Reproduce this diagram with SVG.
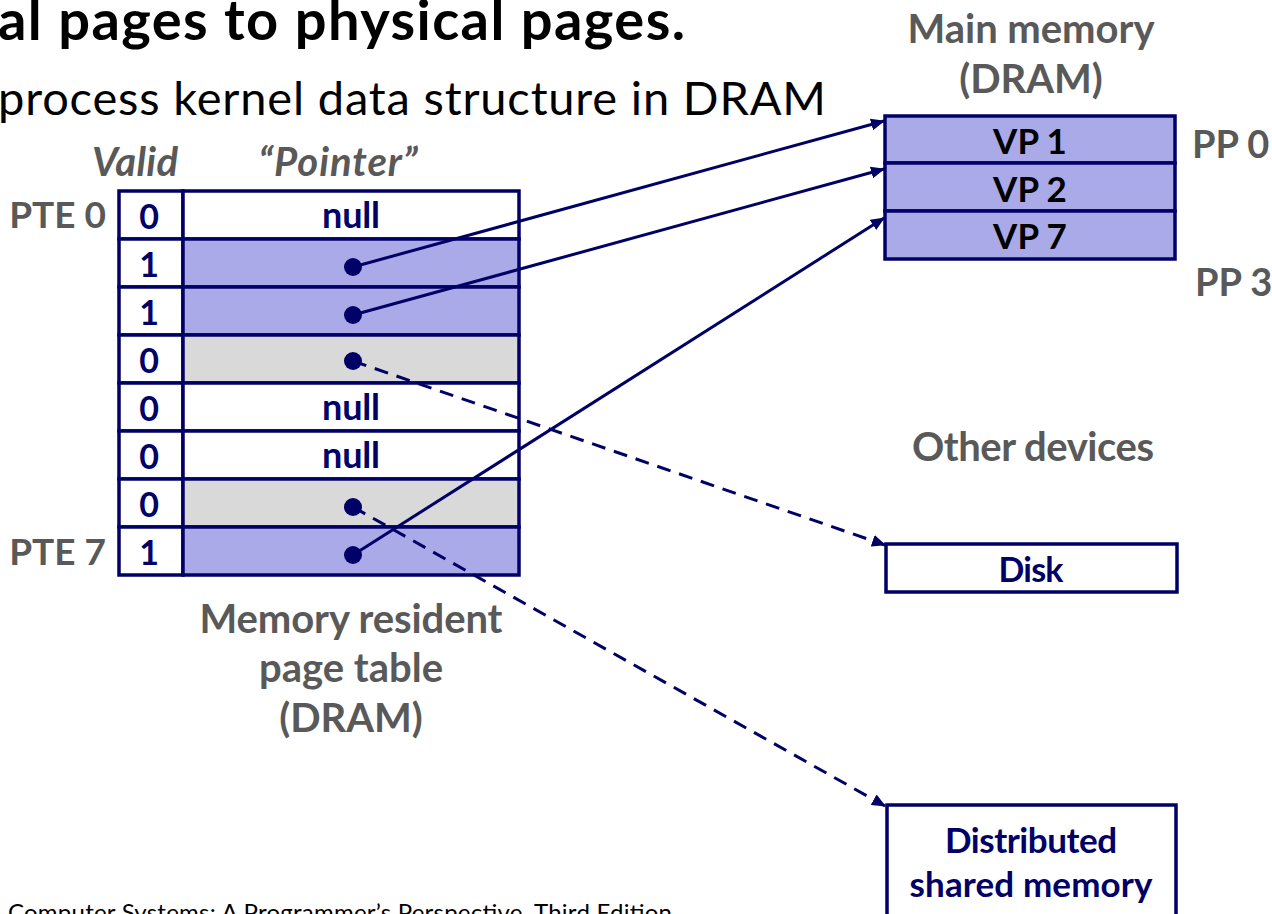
<svg xmlns="http://www.w3.org/2000/svg" width="1272" height="914" viewBox="0 0 1272 914">
<defs>
<marker id="ah" markerWidth="14" markerHeight="12" refX="13" refY="6" orient="auto" markerUnits="userSpaceOnUse">
<path d="M0,0 L14,6 L0,12 Z" fill="#000066"/>
</marker>
<style>
text{font-family:Lato,"Open Sans","Liberation Sans",sans-serif;}
.gray{fill:#595959;font-weight:bold;}
.navy{fill:#000066;font-weight:bold;}
.blk{fill:#000;font-weight:bold;}
.cell{stroke:#000066;stroke-width:3.5;}
.wh{fill:#fff;}
.bl{fill:#AAAAE8;}
.gr{fill:#D9D9D9;}
.dot{fill:#000066;}
.con{stroke:#000066;stroke-width:3;fill:none;marker-end:url(#ah);}
.dash{stroke-dasharray:14,9;}
</style>
</defs>
<rect width="1272" height="914" fill="#fff"/>
<text x="-2" y="40" font-size="56" class="blk" textLength="687">al pages to physical pages.</text>
<text x="-2" y="115" font-size="47" fill="#000" textLength="828">process kernel data structure in DRAM</text>
<text x="135" y="176" font-size="40" class="gray" font-style="italic" text-anchor="middle" textLength="86">Valid</text>
<text x="338" y="176" font-size="40" class="gray" font-style="italic" text-anchor="middle" textLength="159">“Pointer”</text>
<text x="106" y="228" font-size="37" class="gray" text-anchor="end">PTE 0</text>
<text x="106" y="565" font-size="37" class="gray" text-anchor="end">PTE 7</text>
<g id="pagetable">
<rect class="cell wh" x="119" y="191" width="64" height="48"/><rect class="cell wh" x="183" y="191" width="336" height="48"/>
<rect class="cell wh" x="119" y="239" width="64" height="48"/><rect class="cell bl" x="183" y="239" width="336" height="48"/>
<rect class="cell wh" x="119" y="287" width="64" height="48"/><rect class="cell bl" x="183" y="287" width="336" height="48"/>
<rect class="cell wh" x="119" y="335" width="64" height="48"/><rect class="cell gr" x="183" y="335" width="336" height="48"/>
<rect class="cell wh" x="119" y="383" width="64" height="48"/><rect class="cell wh" x="183" y="383" width="336" height="48"/>
<rect class="cell wh" x="119" y="431" width="64" height="48"/><rect class="cell wh" x="183" y="431" width="336" height="48"/>
<rect class="cell wh" x="119" y="479" width="64" height="48"/><rect class="cell gr" x="183" y="479" width="336" height="48"/>
<rect class="cell wh" x="119" y="527" width="64" height="48"/><rect class="cell bl" x="183" y="527" width="336" height="48"/>
<g font-size="34" class="navy" text-anchor="middle">
<text x="149" y="229">0</text><text x="149" y="277">1</text><text x="149" y="325">1</text><text x="149" y="373">0</text>
<text x="149" y="421">0</text><text x="149" y="469">0</text><text x="149" y="517">0</text><text x="149" y="565">1</text>
</g>
<g font-size="36" class="navy" text-anchor="middle">
<text x="351" y="228" textLength="58">null</text><text x="351" y="420" textLength="58">null</text><text x="351" y="468" textLength="58">null</text>
</g>
</g>
<text x="351" y="633" font-size="40" class="gray" text-anchor="middle" textLength="303">Memory resident</text>
<text x="351" y="682" font-size="40" class="gray" text-anchor="middle">page table</text>
<text x="351" y="732" font-size="40" class="gray" text-anchor="middle">(DRAM)</text>
<g id="mainmem">
<text x="1031" y="43" font-size="40" class="gray" text-anchor="middle" textLength="247">Main memory</text>
<text x="1031" y="93" font-size="40" class="gray" text-anchor="middle">(DRAM)</text>
<rect class="cell bl" x="885" y="116" width="290" height="47"/>
<rect class="cell bl" x="885" y="163" width="290" height="48"/>
<rect class="cell bl" x="885" y="211" width="290" height="48"/>
<text x="1030" y="154" font-size="35" class="blk" text-anchor="middle">VP 1</text>
<text x="1030" y="202" font-size="35" class="blk" text-anchor="middle">VP 2</text>
<text x="1030" y="249" font-size="35" class="blk" text-anchor="middle">VP 7</text>
<text x="1192" y="158" font-size="38" class="gray">PP 0</text>
<text x="1195" y="296" font-size="38" class="gray">PP 3</text>
</g>
<text x="1033" y="461" font-size="40" class="gray" text-anchor="middle" textLength="242">Other devices</text>
<g id="disk">
<rect class="cell wh" x="886" y="544" width="291" height="48"/>
<text x="1031" y="582" font-size="34" class="navy" text-anchor="middle" textLength="65">Disk</text>
</g>
<g id="dsm">
<rect class="cell wh" x="887" y="805" width="289" height="130"/>
<text x="1031" y="853" font-size="35" class="navy" text-anchor="middle" textLength="172">Distributed</text>
<text x="1031" y="897" font-size="35" class="navy" text-anchor="middle" textLength="243">shared memory</text>
</g>
<g id="connectors">
<line class="con" x1="353" y1="267" x2="884" y2="121"/>
<line class="con" x1="353" y1="315" x2="884" y2="169"/>
<line class="con" x1="353" y1="555" x2="884" y2="218"/>
<line class="con dash" x1="353" y1="361" x2="885" y2="545"/>
<line class="con dash" x1="353" y1="507" x2="885" y2="806"/>
<circle class="dot" cx="353" cy="267" r="9"/>
<circle class="dot" cx="353" cy="315" r="9"/>
<circle class="dot" cx="353" cy="361" r="9"/>
<circle class="dot" cx="353" cy="507" r="9"/>
<circle class="dot" cx="353" cy="555" r="9"/>
</g>
<text x="8" y="921" font-size="24" fill="#000" textLength="664">Computer Systems: A Programmer’s Perspective, Third Edition</text>
</svg>
